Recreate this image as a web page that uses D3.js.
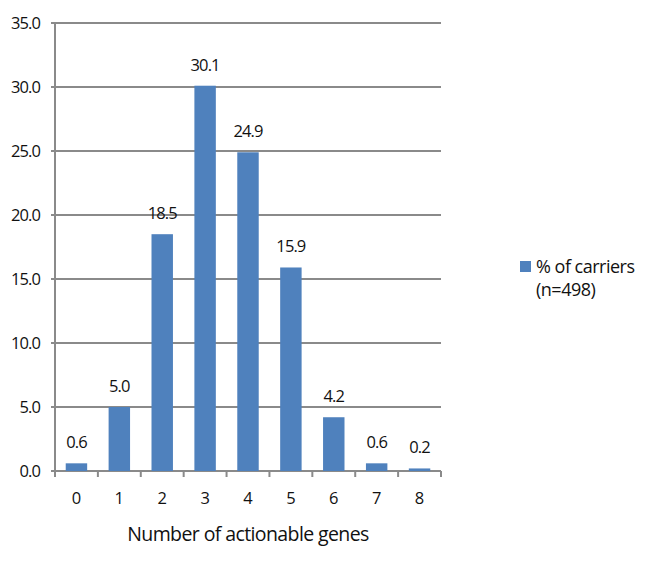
<!DOCTYPE html>
<html><head><meta charset="utf-8">
<script src="https://cdn.jsdelivr.net/npm/d3@7"></script>
<style>body{margin:0;background:#fff}text{font-family:"Open Sans",Lato,sans-serif;fill:#111}</style>
</head><body><svg id="c" width="666" height="561"></svg>
<script>
const categories = ["0","1","2","3","4","5","6","7","8"];
const values = [0.6,5.0,18.5,30.1,24.9,15.9,4.2,0.6,0.2];
const yTicks = [0,5,10,15,20,25,30,35];
const seriesName = ["% of carriers","(n=498)"];
const xTitle = "Number of actionable genes";

const svg = d3.select("#c");
const L=55,R=441,T=23,B=471;
const x = d3.scaleBand().domain(categories).range([L,R]).paddingInner(0.5).paddingOuter(0.25);
const y = d3.scaleLinear().domain([0,35]).range([B,T]);
const grey="#8a8a8a";

svg.append("g").selectAll("line").data(yTicks).join("line")
  .attr("x1",L-4).attr("x2",R).attr("y1",d=>y(d)).attr("y2",d=>y(d))
  .attr("stroke",grey).attr("stroke-width",2);
svg.append("line").attr("x1",L).attr("x2",L).attr("y1",T).attr("y2",B+4).attr("stroke",grey).attr("stroke-width",2);
svg.append("g").selectAll("text").data(yTicks).join("text")
  .attr("x",40).attr("y",d=>y(d)+6).attr("text-anchor","end").attr("font-size",16.5)
  .attr("letter-spacing",-0.9).text(d=>d.toFixed(1));
const bounds = d3.range(categories.length+1).map(i=>L+i*(R-L)/categories.length);
svg.append("g").selectAll("line").data(bounds).join("line")
  .attr("x1",d=>d).attr("x2",d=>d).attr("y1",B).attr("y2",B+6).attr("stroke",grey).attr("stroke-width",2);
svg.append("g").selectAll("rect").data(values).join("rect")
  .attr("x",(d,i)=>x(categories[i])).attr("width",x.bandwidth())
  .attr("y",d=>y(d)).attr("height",d=>B-y(d)).attr("fill","#4f81bd");
svg.append("g").selectAll("text").data(values).join("text")
  .attr("x",(d,i)=>x(categories[i])+x.bandwidth()/2).attr("y",d=>y(d)-15)
  .attr("text-anchor","middle").attr("font-size",16.5).attr("letter-spacing",-0.9).text(d=>d.toFixed(1));
svg.append("g").selectAll("text").data(categories).join("text")
  .attr("x",d=>x(d)+x.bandwidth()/2).attr("y",504).attr("text-anchor","middle").attr("font-size",16.5).text(d=>d);
svg.append("text").attr("x",(L+R)/2).attr("y",541).attr("text-anchor","middle").attr("font-size",19.5)
  .attr("letter-spacing",-0.6).text(xTitle);
svg.append("rect").attr("x",520).attr("y",261).attr("width",11).attr("height",11).attr("fill","#4f81bd");
svg.append("text").attr("x",536).attr("y",273).attr("font-size",18).attr("letter-spacing",-0.5).text(seriesName[0]);
svg.append("text").attr("x",536).attr("y",296).attr("font-size",18).attr("letter-spacing",-0.5).text(seriesName[1]);
</script></body></html>
